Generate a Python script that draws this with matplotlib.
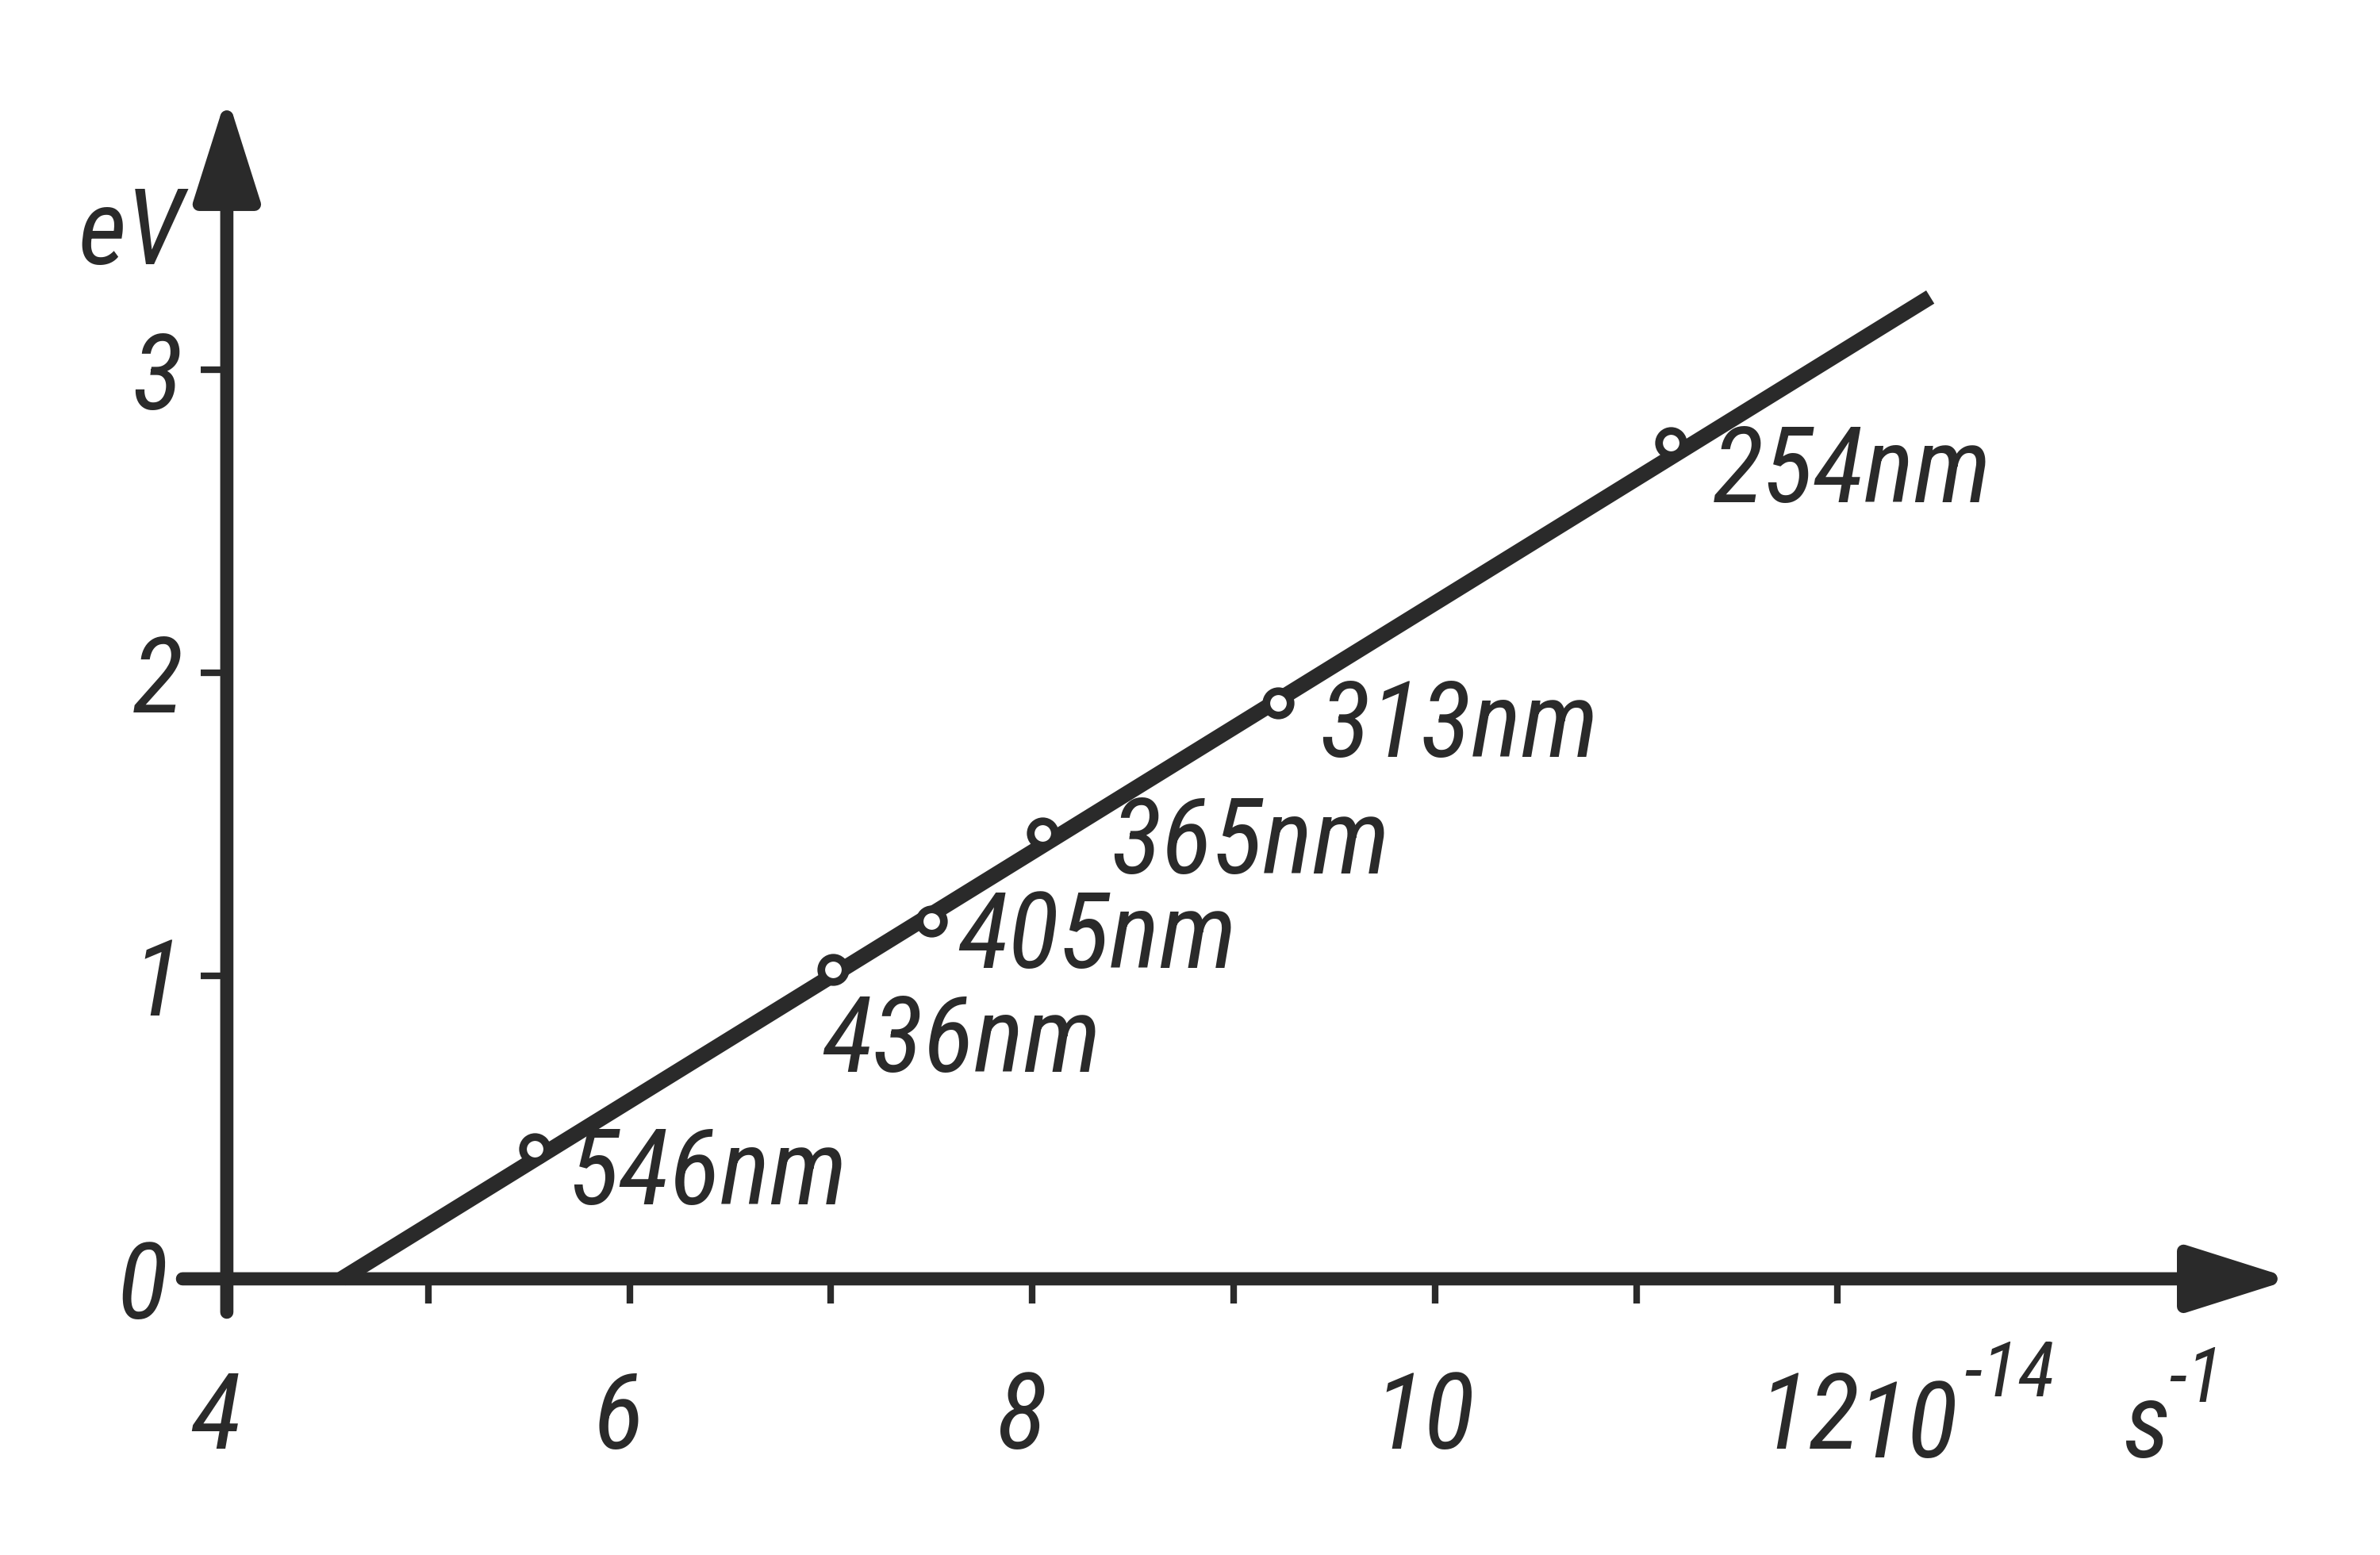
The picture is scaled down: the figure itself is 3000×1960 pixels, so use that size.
import matplotlib
matplotlib.use("Agg")
import matplotlib.pyplot as plt
from matplotlib.transforms import ScaledTranslation

# photoelectric effect: stopping energy vs light frequency (10^14 1/s)
freq = [5.53, 7.01, 7.50, 8.05, 9.22, 11.17]
energy = [0.43, 1.02, 1.18, 1.47, 1.90, 2.76]
wavelengths = ["546nm", "436nm", "405nm", "365nm", "313nm", "254nm"]

fit_freq = [4.57, 12.46]
fit_energy = [0.0, 3.24]

x_ticks = [4, 5, 6, 7, 8, 9, 10, 11, 12]
x_ticklabels = ["4", "", "6", "", "8", "", "10", "", "12"]
y_ticks = [0, 1, 2, 3]
y_ticklabels = ["0", "1", "2", "3"]

INK = "#2a2a2a"
plt.rcParams["font.family"] = ["Roboto Condensed", "Barlow Condensed",
                               "Liberation Sans Narrow", "DejaVu Sans"]
plt.rcParams["font.style"] = "italic"
FS = 48

# label offsets in points (dx, dy) from each point
label_offsets = [(15, -12), (-5, -33), (12, -8), (31, -5), (19, -11), (19, -14)]

fig = plt.figure(figsize=(15, 9.8), dpi=200)
ax = fig.add_axes([0.0953, 0.1776, 0.8714, 0.7639])
ax.set_xlim(4, 14.3)
ax.set_ylim(0, 3.92)
for s in ax.spines.values():
    s.set_visible(False)

arrow = dict(arrowstyle="-|>,head_length=0.6,head_width=0.19", lw=6,
             color=INK, mutation_scale=66, shrinkA=0, shrinkB=0)
ax.annotate("", xy=(14.26, 0), xytext=(3.78, 0), arrowprops=arrow,
            annotation_clip=False)
ax.annotate("", xy=(4, 3.906), xytext=(4, -0.11), arrowprops=arrow,
            annotation_clip=False)

ax.plot(fit_freq, fit_energy, color=INK, lw=7, solid_capstyle="butt",
        clip_on=False, zorder=3)
ax.plot(freq, energy, "o", ms=11, mfc="white", mec=INK, mew=3.5,
        clip_on=False, zorder=4)

for f, e, lab, (dx, dy) in zip(freq, energy, wavelengths, label_offsets):
    ax.annotate(lab, xy=(f, e), xytext=(dx, dy), textcoords="offset points",
                ha="left", va="center", fontsize=FS, color=INK)

ax.set_xticks(x_ticks)
ax.set_xticklabels(x_ticklabels)
ax.set_yticks(y_ticks)
ax.set_yticklabels(y_ticklabels)
ax.tick_params(axis="x", direction="out", length=11, width=3, color=INK,
               pad=30, labelsize=FS, labelcolor=INK)
ax.tick_params(axis="y", direction="out", length=12, width=3, color=INK,
               pad=8, labelsize=FS, labelcolor=INK)

# hand lettering sits a bit left of the ticks; "12" more so, before 10^-14
xlabels = ax.get_xticklabels()
for i, lab in enumerate(xlabels):
    shift = -13 if i == len(xlabels) - 1 else -5
    lab.set_transform(lab.get_transform() +
                      ScaledTranslation(shift / 72, 0, fig.dpi_scale_trans))
# the "0" stays clear of the x axis stub
zero = ax.get_yticklabels()[0]
zero.set_transform(zero.get_transform() +
                   ScaledTranslation(-7 / 72, 0, fig.dpi_scale_trans))

fig.text(0.033, 0.849, "eV", ha="left", va="center", fontsize=FS, color=INK)
fig.text(0.780, 0.0628, "10", ha="left", va="baseline", fontsize=FS, color=INK)
fig.text(0.825, 0.102, "-14", ha="left", va="baseline", fontsize=FS * 0.72,
         color=INK)
fig.text(0.892, 0.0628, "s", ha="left", va="baseline", fontsize=FS, color=INK)
fig.text(0.911, 0.0985, "-1", ha="left", va="baseline", fontsize=FS * 0.72,
         color=INK)

fig.savefig("out.png", dpi=200, facecolor="white")
